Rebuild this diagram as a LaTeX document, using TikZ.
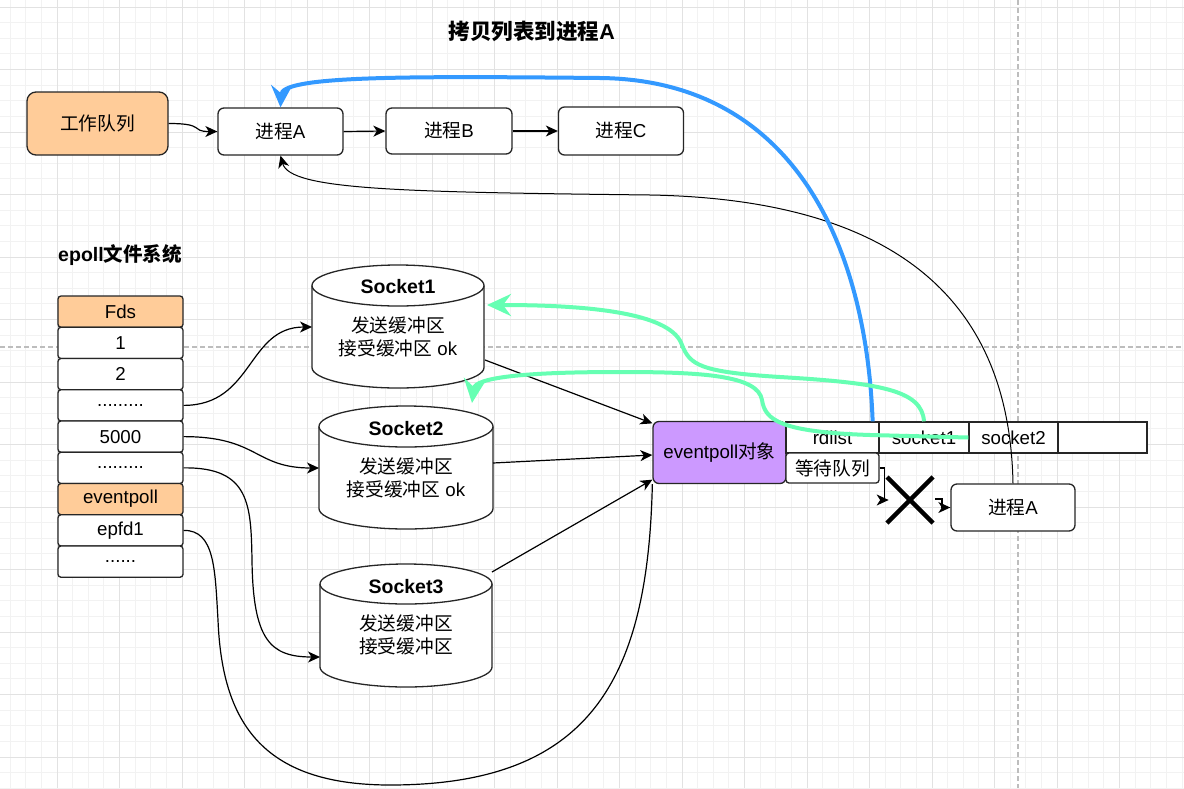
\documentclass[tikz,border=0pt]{standalone}
\usepackage{fontspec}
\setmainfont{Liberation Sans}
\newfontfamily\cjk{Noto Sans CJK SC}
\usetikzlibrary{arrows.meta,calc}
\definecolor{orangefill}{HTML}{FFCC99}
\definecolor{purplefill}{HTML}{CC99FF}
\definecolor{blueline}{HTML}{3399FF}
\definecolor{greenline}{HTML}{66FFB3}
\definecolor{gridmajor}{HTML}{E2E2E2}
\definecolor{gridminor}{HTML}{F2F2F2}
\definecolor{pagebreak}{HTML}{BDBDBD}
\definecolor{strokec}{HTML}{262626}
\newcommand\fsn{\fontsize{18.7pt}{23pt}\selectfont}
\newcommand\mycyl[5]{%
  \pgfmathsetmacro\cylcx{(#1+#2)/2}%
  \pgfmathsetmacro\cylrx{(#2-#1)/2}%
  \pgfmathsetmacro\cylty{#3+#5}%
  \pgfmathsetmacro\cylby{#4-#5}%
  \pgfmathsetmacro\cylk{0.5523*#5}%
  \pgfmathsetmacro\cylkx{0.5523*\cylrx}%
  \draw[cylline] (#1,\cylty) -- (#1,\cylby) .. controls (#1,\cylby+\cylk) and (\cylcx-\cylkx,#4) .. (\cylcx,#4) .. controls (\cylcx+\cylkx,#4) and (#2,\cylby+\cylk) .. (#2,\cylby) -- (#2,\cylty);
  \draw[cylline] (\cylcx,\cylty) ellipse [x radius=\cylrx, y radius=#5];
}
\begin{document}
\begin{tikzpicture}[x=1pt,y=-1pt,
  box/.style={draw=strokec, line width=1.3pt, rounded corners=6pt, fill=white, inner sep=0pt, font=\fsn, text=black},
  fdrow/.style={box, rounded corners=3pt, minimum width=125pt, minimum height=31.25pt},
  cell/.style={draw=strokec, line width=1.3pt, fill=white, inner sep=0pt, font=\fsn, minimum height=31pt},
  conn/.style={draw=black, line width=1.2pt, -{Stealth[length=12pt,width=11pt,inset=3.5pt]}},
  plainconn/.style={draw=black, line width=1.2pt},
  thinconn/.style={draw=black, line width=1pt, -{Stealth[length=12pt,width=11pt,inset=3.5pt]}},
  bluearrow/.style={draw=blueline, line width=4pt, -{Stealth[length=22pt,width=21pt,inset=8pt]}},
  greenarrow/.style={draw=greenline, line width=4pt, -{Stealth[length=24pt,width=22pt,inset=8pt]}},
  cylline/.style={draw=strokec, line width=1.3pt, fill=white},
  crossline/.style={draw=black, line width=4.5pt},
  socklabel/.style={font=\fontsize{19.5pt}{23pt}\selectfont\bfseries, inner sep=0pt},
  socktext/.style={font=\fsn, align=center, inner sep=0pt},
]
\useasboundingbox (0,0) rectangle (1184,788);
\fill[white] (0,0) rectangle (1184,788);
% grid
\foreach \i in {0,...,75} \draw[gridminor, line width=0.8pt] ({10.125+15.625*\i},0) -- ({10.125+15.625*\i},788);
\foreach \i in {0,...,50} \draw[gridminor, line width=0.8pt] (0,{7+15.625*\i}) -- (1184,{7+15.625*\i});
\foreach \i in {0,...,18} \draw[gridmajor, line width=1pt] ({-5.5+62.5*\i},0) -- ({-5.5+62.5*\i},788);
\foreach \i in {0,...,12} \draw[gridmajor, line width=1pt] (0,{7+62.5*\i}) -- (1184,{7+62.5*\i});
\draw[pagebreak, line width=1.2pt, dash pattern=on 5pt off 3pt] (0,347) -- (1184,347);
\draw[pagebreak, line width=1.2pt, dash pattern=on 5pt off 3pt] (1018,0) -- (1018,788);

% titles
\node[font=\fontsize{21.5pt}{26pt}\selectfont\bfseries, inner sep=0pt] (title) at (532,31) {{\cjk 拷贝列表到进程}A};
\node[font=\fontsize{19.5pt}{24pt}\selectfont\bfseries, inner sep=0pt] (eplabel) at (120,255) {epoll{\cjk 文件系统}};

% top row
\node[box, rounded corners=9pt, fill=orangefill, minimum width=141pt, minimum height=63pt] (wq) at (97.5,123.5) {\cjk 工作队列};
\node[box, minimum width=125pt, minimum height=47pt] (pA) at (280.5,131.5) {{\cjk 进程}A};
\node[box, minimum width=126pt, minimum height=46pt] (pB) at (449,131) {{\cjk 进程}B};
\node[box, minimum width=125pt, minimum height=48pt] (pC) at (621,131) {{\cjk 进程}C};

% fds table
\node[fdrow, fill=orangefill] (r0) at (120.5,311.625) {Fds};
\node[fdrow] (r1) at (120.5,342.875) {1};
\node[fdrow] (r2) at (120.5,374.125) {2};
\node[fdrow] (r3) at (120.5,405.375) {.........};
\node[fdrow] (r4) at (120.5,436.625) {5000};
\node[fdrow] (r5) at (120.5,467.875) {.........};
\node[fdrow, fill=orangefill] (r6) at (120.5,499.125) {eventpoll};
\node[fdrow] (r7) at (120.5,530.375) {epfd1};
\node[fdrow] (r8) at (120.5,561.625) {......};

% sockets
\mycyl{312}{484}{265}{388}{20.5}
\mycyl{319}{493}{406}{529}{20.5}
\mycyl{320}{492}{564}{687}{20}
\node[socklabel] (s1) at (398,287) {Socket1};
\node[socktext] (s1t) at (398,337) {{\cjk 发送缓冲区}\\{\cjk 接受缓冲区} ok};
\node[socklabel] (s2) at (406,429) {Socket2};
\node[socktext] (s2t) at (406,478) {{\cjk 发送缓冲区}\\{\cjk 接受缓冲区} ok};
\node[socklabel] (s3) at (406,587) {Socket3};
\node[socktext] (s3t) at (406,635) {{\cjk 发送缓冲区}\\{\cjk 接受缓冲区}};
\coordinate (s1w) at (312,327);
\coordinate (s1e) at (485,360);
\coordinate (s1g) at (487,305);
\coordinate (s1b) at (472,403);
\coordinate (s2w) at (319,468);
\coordinate (s2e) at (493,463);
\coordinate (s3w) at (320,657);
\coordinate (s3e) at (492,572);

% eventpoll object and lists
\node[box, fill=purplefill, minimum width=133pt, minimum height=62pt] (ep) at (719.5,452.5) {eventpoll{\cjk 对象}};
\node[cell, minimum width=93pt] (rd) at (832.5,437.5) {rdlist};
\node[box, rounded corners=3pt, minimum width=93pt, minimum height=30pt] (wait) at (832.5,468) {\cjk 等待队列};
\node[cell, minimum width=90pt] (s1cell) at (924,437.5) {socket1};
\node[cell, minimum width=89pt] (s2cell) at (1013.5,437.5) {socket2};
\node[cell, minimum width=89pt] (emcell) at (1102.5,437.5) {};
\node[box, minimum width=124pt, minimum height=47pt] (pA2) at (1013,507.5) {{\cjk 进程}A};

% connectors top row
\draw[conn] (wq.east) .. controls +(38,0) and +(-28,0) .. (pA.west);
\draw[conn] (pA.east) -- (pB.west);
\draw[conn] (pB.east) -- (pC.west);

% fds to sockets
\draw[conn] (r3.east) .. controls +(70,0) and +(-65,0) .. (s1w);
\draw[conn] (r4.east) .. controls +(75,0) and +(-65,0) .. (s2w);
\draw[conn] (r5.east) .. controls (250,467) and (251,505) .. (252,560) .. controls (253,640) and (270,657) .. (s3w);
\draw[plainconn] (r7.east) .. controls (215,530) and (215,570) .. (218,620) .. controls (222,720) and (260,785) .. (390,785) .. controls (590,785) and (648,680) .. (ep.south west);

% sockets to eventpoll
\draw[conn] (s1e) -- ($(ep.north west)+(0,2.5)$);
\draw[conn] (s2e) -- ($(ep.west)+(0,2.5)$);
\draw[conn] (s3e) -- ($(ep.south west)+(0,-4.5)$);

% waiting queue to process A (blocked)
\coordinate (wq2) at (935,499);
\draw[conn] (wait.east) -- ++(5,0) -- ++(0,32) -- ++(4,0);
\draw[conn] (wq2) -- (942,499) -- (942,507.5) -- (pA2.west);
\draw[crossline] (887,477) -- (933,523);
\draw[crossline] (933,477) -- (887,523);

% process A back to top
\draw[thinconn] (pA2.north) .. controls (1010,330) and (930,200) .. (650,195) .. controls (400,192) and (290,190) .. (pA.south);

% blue copy arrow
\draw[bluearrow] ([xshift=-7pt]rd.north east) .. controls (866,240) and (790,80) .. (600,78) .. controls (400,76) and (282,76) .. (pA.north);

% green arrows
\draw[greenarrow] (s1cell.north) .. controls (922,390) and (880,383) .. (780,377) .. controls (700,372) and (690,365) .. (682,345) .. controls (672,315) and (600,305) .. (s1g);
\draw[greenarrow] (s2cell.west) -- (870,435) .. controls (780,432) and (765,420) .. (762,400) .. controls (758,375) and (700,372) .. (620,372) .. controls (520,372) and (475,378) .. (s1b);
\end{tikzpicture}
\end{document}
